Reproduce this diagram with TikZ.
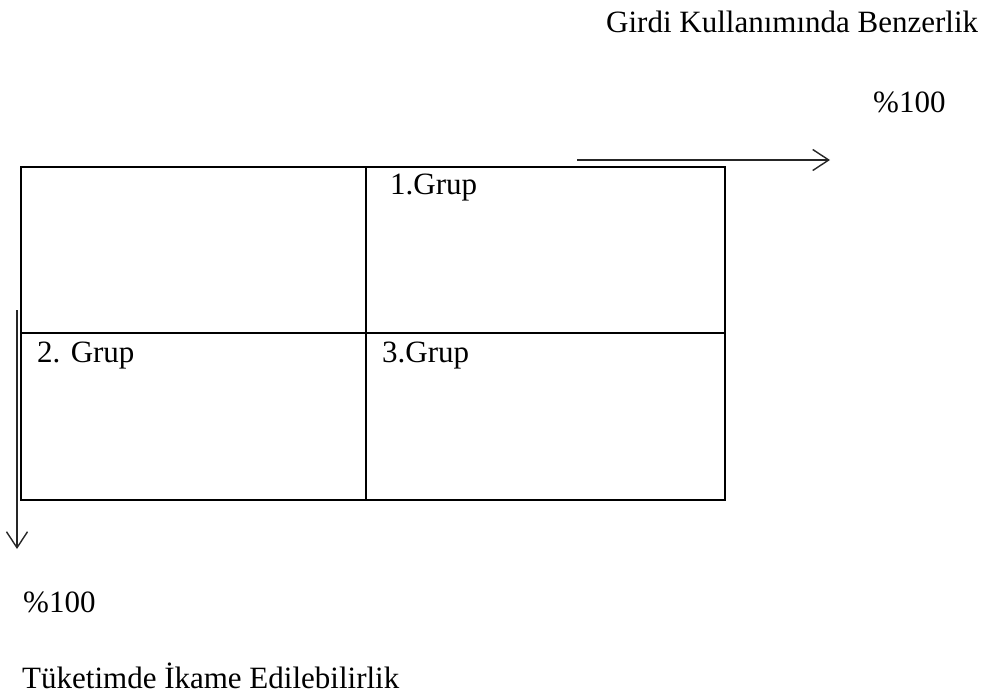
\documentclass[tikz,border=0pt]{standalone}
\usepackage{fontspec}
\setmainfont{Liberation Serif}
\usetikzlibrary{arrows.meta}
\begin{document}
\begin{tikzpicture}[x=1pt,y=-1pt,
  lbl/.style={anchor=base west,inner sep=0pt,font=\fontsize{31}{36}\selectfont},
  cellline/.style={line width=2pt},
  axisarrow/.style={line width=1.4pt,draw=black!85,-{Straight Barb[length=16pt,width=21pt,line width=1.4pt]}}]
  \useasboundingbox (0,0) rectangle (989,699);
  % grid of the three groups
  \coordinate (tl) at (21,167);
  \coordinate (br) at (725,500);
  \draw[cellline] (tl) rectangle (br);
  \coordinate (mt) at (366,167);
  \coordinate (mb) at (366,500);
  \coordinate (ml) at (21,333);
  \coordinate (mr) at (725,333);
  \draw[cellline] (mt) -- (mb);
  \draw[cellline] (ml) -- (mr);
  \node[lbl] (g1) at (390,194) {1.Grup};
  \node[lbl] (g2) at (37,362) {2. Grup};
  \node[lbl] (g3) at (382,362) {3.Grup};
  % axes
  \coordinate (hs) at (577,160);
  \coordinate (he) at (830,160);
  \draw[axisarrow] (hs) -- (he);
  \coordinate (vs) at (17,310);
  \coordinate (ve) at (17,549);
  \draw[axisarrow] (vs) -- (ve);
  \node[lbl] (ttop) at (606,32) {Girdi Kullanımında Benzerlik};
  \node[lbl] (ptop) at (873,112) {\%100};
  \node[lbl] (pbot) at (23,612) {\%100};
  \node[lbl] (tbot) at (22,688) {Tüketimde İkame Edilebilirlik};
\end{tikzpicture}
\end{document}
